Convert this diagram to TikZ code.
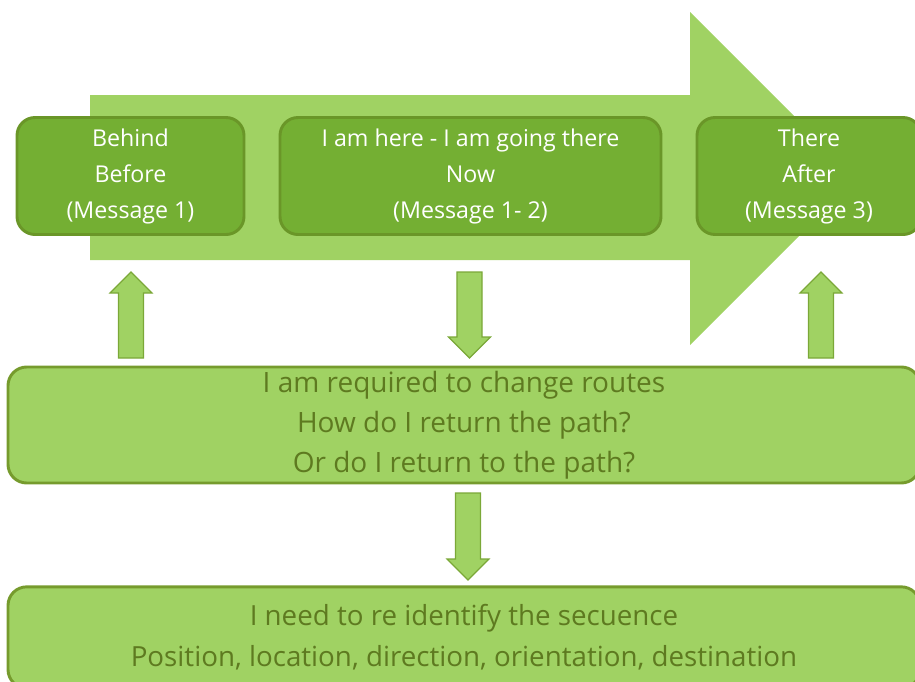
\documentclass[tikz,border=0pt]{standalone}
\usepackage{fontspec}
\setmainfont{Open Sans}
\usetikzlibrary{calc}

\definecolor{lightgreen}{HTML}{A0D263}
\definecolor{darkgreen}{HTML}{74AF33}
\definecolor{darkedge}{HTML}{6A9628}
\definecolor{lightedge}{HTML}{769B2D}
\definecolor{olivetext}{HTML}{5E7A20}
\definecolor{arrowedge}{HTML}{7BA838}

% vertical block arrow from base #1 to tip #2
\newcommand\blockarrow[2]{%
  \coordinate (#2-sh) at ($(#2)!15.75pt!(#1)$);
  \draw[smallarrow]
    ($(#1)+(-9.4pt,0pt)$) -- ($(#2-sh)+(-9.4pt,0pt)$) --
    ($(#2-sh)+(-15.75pt,0pt)$) -- (#2) --
    ($(#2-sh)+(15.75pt,0pt)$) -- ($(#2-sh)+(9.4pt,0pt)$) --
    ($(#1)+(9.4pt,0pt)$) -- cycle;}

\begin{document}
\begin{tikzpicture}[x=0.75pt,y=-0.75pt,
  darkbox/.style={draw=darkedge, line width=2.2pt, fill=darkgreen,
    rounded corners=13.5pt, inner sep=0pt, align=center, text=white,
    font=\fontsize{17.4}{27}\selectfont, minimum height=87.75pt},
  lightbox/.style={draw=lightedge, line width=2.2pt, fill=lightgreen,
    rounded corners=14pt, inner sep=0pt, align=center, text=olivetext,
    minimum width=684pt},
  smallarrow/.style={draw=arrowedge, line width=0.9pt, fill=lightgreen,
    line join=miter}]
\useasboundingbox (0,0) rectangle (915,682);

% broad background arrow
\fill[lightgreen] (90,95) -- (690,95) -- (690,12) -- (856.5,178.5)
  -- (690,345) -- (690,260) -- (90,260) -- cycle;

% top row
\node[darkbox, minimum width=170.25pt] (behind) at (130.5,176)
  {Behind\\Before\\(Message 1)};
\node[darkbox, minimum width=285.75pt] (now) at (470.5,176)
  {I am here - I am going there\\Now\\(Message 1- 2)};
\node[darkbox, minimum width=168pt] (there) at (809,176)
  {There\\After\\(Message 3)};

% lower boxes
\node[lightbox, minimum height=87pt, font=\fontsize{21}{30}\selectfont]
  (change) at (464,425)
  {I am required to change routes\\How do I return the path?\\Or do I return to the path?};
\node[lightbox, minimum height=76pt, font=\fontsize{20.8}{30.75}\selectfont]
  (sequence) at (464,637.5)
  {I need to re identify the secuence\\Position, location, direction, orientation, destination};

% connecting block arrows
\coordinate (upL-base) at (131,358);
\coordinate (upL-tip) at (131,272);
\coordinate (down-base) at (469.5,272);
\coordinate (down-tip) at (469.5,358);
\coordinate (upR-base) at (821,358);
\coordinate (upR-tip) at (821,272);
\coordinate (low-base) at (468,493);
\coordinate (low-tip) at (468,580);
\blockarrow{upL-base}{upL-tip}
\blockarrow{down-base}{down-tip}
\blockarrow{upR-base}{upR-tip}
\blockarrow{low-base}{low-tip}
\end{tikzpicture}
\end{document}
